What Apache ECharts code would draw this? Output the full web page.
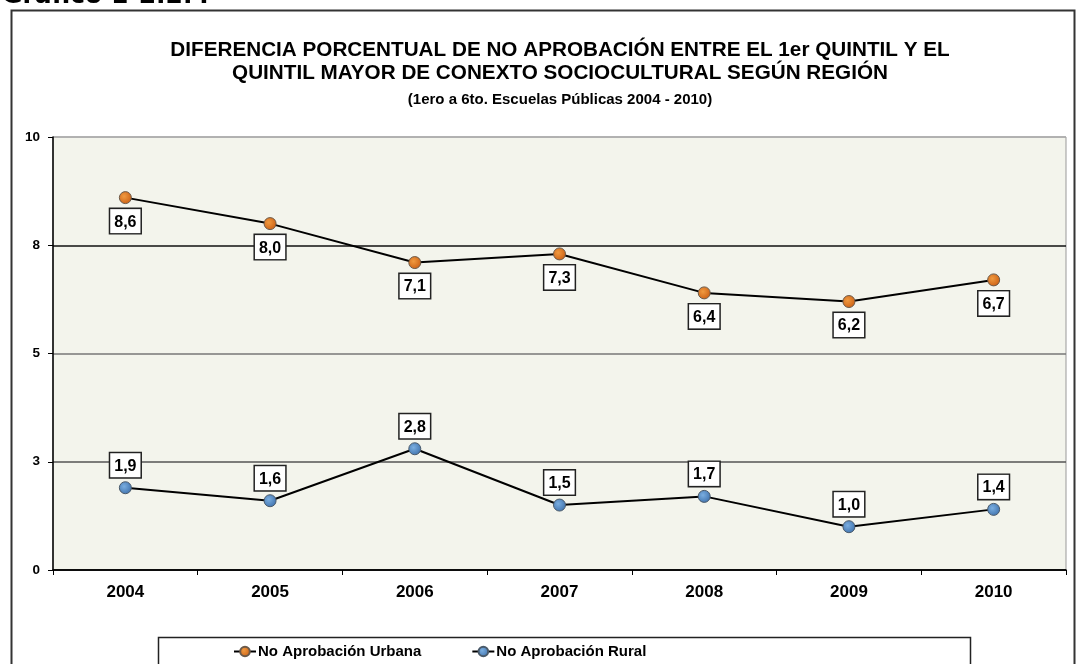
<!DOCTYPE html>
<html>
<head>
<meta charset="utf-8">
<script src="https://cdn.jsdelivr.net/npm/echarts@6/dist/echarts.min.js"></script>
<style>
  html, body { margin: 0; padding: 0; background: #fff; }
  #chart { width: 1084px; height: 664px; }
</style>
</head>
<body>
<div id="chart"></div>
<script>
// datos
const years = ['2004', '2005', '2006', '2007', '2008', '2009', '2010'];
const urbana = [8.6, 8.0, 7.1, 7.3, 6.4, 6.2, 6.7];
const rural = [1.9, 1.6, 2.8, 1.5, 1.7, 1.0, 1.4];

const chart = echarts.init(document.getElementById('chart'));

const fmt = p => p.value.toFixed(1).replace('.', ',');
const labelBox = {
  show: true,
  formatter: fmt,
  color: '#000',
  fontWeight: 'bold',
  fontSize: 16,
  fontFamily: 'Liberation Sans, Arial, sans-serif',
  backgroundColor: '#fff',
  borderColor: '#222',
  borderWidth: 1.5,
  padding: [5, 4, 3, 4]
};

const option = {
  animation: false,
  title: {
    text: 'DIFERENCIA PORCENTUAL DE NO APROBACIÓN ENTRE EL 1er QUINTIL Y EL\nQUINTIL MAYOR DE CONEXTO SOCIOCULTURAL SEGÚN REGIÓN',
    subtext: '(1ero a 6to. Escuelas Públicas 2004 - 2010)',
    left: 555,
    textAlign: 'center',
    top: 34,
    itemGap: 7,
    textStyle: {
      fontFamily: 'Liberation Sans, Arial, sans-serif',
      fontWeight: 'bold',
      fontSize: 20.7,
      lineHeight: 23,
      color: '#000'
    },
    subtextStyle: {
      fontFamily: 'Liberation Sans, Arial, sans-serif',
      fontWeight: 'bold',
      fontSize: 15,
      color: '#000'
    }
  },
  graphic: [
    {
      type: 'rect',
      shape: { x: 11.5, y: 10.5, width: 1063, height: 700 },
      style: { fill: 'none', stroke: '#333', lineWidth: 2 },
      z: -1
    },
    {
      type: 'text',
      left: 2,
      top: -16,
      style: {
        text: 'Gráfico 1-2.2.4',
        font: 'bold 25px DejaVu Sans, sans-serif',
        fill: '#000'
      }
    },
    {
      type: 'rect',
      shape: { x: 158.5, y: 637.5, width: 812, height: 40 },
      style: { fill: '#fff', stroke: '#222', lineWidth: 1.5 },
      z: 0
    }
  ],
  legend: {
    left: 228,
    top: 639,
    itemGap: 50,
    itemWidth: 22,
    itemHeight: 12,
    textStyle: {
      fontFamily: 'Liberation Sans, Arial, sans-serif',
      fontWeight: 'bold',
      fontSize: 15,
      color: '#000',
      padding: [0, 0, 0, -3]
    },
    z: 5
  },
  grid: {
    left: 53,
    right: 18,
    top: 137,
    bottom: 94,
    show: true,
    backgroundColor: '#f3f4ec',
    borderColor: '#999',
    borderWidth: 1
  },
  xAxis: {
    type: 'category',
    data: years,
    boundaryGap: true,
    axisLine: { lineStyle: { color: '#000', width: 1.5 } },
    axisTick: { show: true, length: 5, lineStyle: { color: '#000' } },
    axisLabel: {
      color: '#000',
      fontWeight: 'bold',
      fontSize: 17,
      margin: 14,
      fontFamily: 'Liberation Sans, Arial, sans-serif'
    }
  },
  yAxis: {
    type: 'value',
    min: 0,
    max: 10,
    interval: 2.5,
    axisLine: { show: true, lineStyle: { color: '#000', width: 1.5 } },
    axisTick: { show: true, length: 5, lineStyle: { color: '#000' } },
    axisLabel: {
      color: '#000',
      fontWeight: 'bold',
      fontSize: 13.5,
      margin: 13,
      fontFamily: 'Liberation Sans, Arial, sans-serif',
      formatter: v => String(Math.round(v))
    },
    splitLine: {
      show: true,
      lineStyle: { color: ['#000', '#555', '#777', '#111', '#aaa'], width: 1.5 }
    }
  },
  series: [
    {
      name: 'No Aprobación Urbana',
      type: 'line',
      data: urbana,
      symbol: 'circle',
      symbolSize: 12,
      lineStyle: { color: '#000', width: 2 },
      itemStyle: {
        color: new echarts.graphic.RadialGradient(0.4, 0.4, 0.7, [
          { offset: 0, color: '#f09a40' },
          { offset: 1, color: '#c85a10' }
        ]),
        borderColor: '#6b5a4a',
        borderWidth: 1
      },
      label: Object.assign({ position: 'bottom', distance: 5 }, labelBox)
    },
    {
      name: 'No Aprobación Rural',
      type: 'line',
      data: rural,
      symbol: 'circle',
      symbolSize: 12,
      lineStyle: { color: '#000', width: 2 },
      itemStyle: {
        color: new echarts.graphic.RadialGradient(0.4, 0.4, 0.7, [
          { offset: 0, color: '#7aaee0' },
          { offset: 1, color: '#3a6ca8' }
        ]),
        borderColor: '#4a5a6a',
        borderWidth: 1
      },
      label: Object.assign({ position: 'top', distance: 4 }, labelBox)
    }
  ]
};

chart.setOption(option);
window.addEventListener('resize', () => chart.resize());
</script>
</body>
</html>
